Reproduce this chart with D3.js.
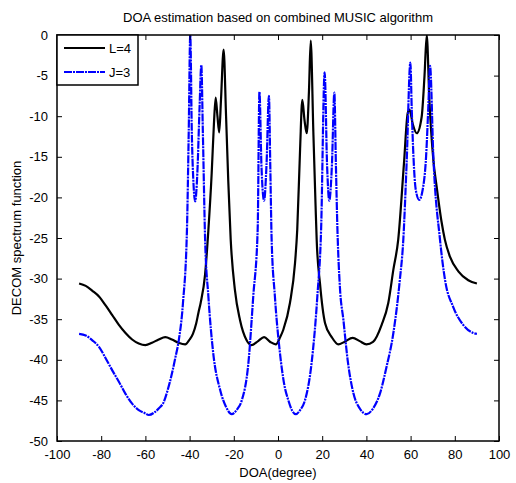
<!DOCTYPE html>
<html>
<head>
<meta charset="utf-8">
<script src="https://cdn.jsdelivr.net/npm/d3@7"></script>
<style>
  body { margin: 0; background: #fff; }
  text { font-family: "Liberation Sans", Arial, sans-serif; fill: #000; }
</style>
</head>
<body>
<div id="chart"></div>
<script>
// L=4 spectrum (degree, dB)
const seriesL4 = [
  [-90,-30.6],[-87,-30.9],[-84,-31.5],[-81,-32.2],[-78,-33.3],[-75,-34.5],[-72,-35.7],[-69,-36.7],
  [-66,-37.5],[-63,-38.0],[-60,-38.2],[-57,-37.9],[-54,-37.5],[-51,-37.2],[-48,-37.5],[-45,-37.9],
  [-42,-38.1],[-40,-37.5],[-38.5,-36.8],[-37,-35.5],[-36,-34.2],[-35,-33],[-33,-29.5],[-31.5,-24],
  [-30,-17],[-29,-11],[-28.2,-7.7],[-27.4,-10],[-26.6,-12],[-25.8,-8],[-24.6,-1.8],[-23.5,-10],
  [-22.5,-18],[-21.4,-25.2],[-19.5,-31.4],[-17.2,-35.1],[-14.2,-37.6],[-12,-38.2],[-9,-37.7],
  [-6.3,-37.2],[-3.5,-37.8],[-1,-38.1],[1,-37.2],[2.4,-36.3],[5.4,-33],[7.7,-28.1],[8.7,-24],
  [10,-14],[11,-8],[12,-10.5],[13,-12.1],[14,-7],[14.8,-0.7],[16,-12],[17,-21],[17.5,-25.2],
  [19,-30.6],[21.3,-35.5],[24.3,-37.2],[27.3,-38.1],[30,-37.8],[33.8,-37.3],[37,-37.7],[40,-38.1],
  [43,-37.8],[46.9,-35.7],[49.9,-33],[52.2,-28.9],[54.4,-25.2],[57,-15.8],[58.7,-9.6],[59.5,-9.2],
  [61,-11],[62.8,-12.1],[65,-10.1],[66.3,-5],[67.3,0],[68.5,-8],[70.3,-15.4],[71.8,-18.7],[74,-23],
  [75.5,-25.2],[77.8,-27.3],[81.6,-29.1],[86.1,-30.2],[90,-30.6]
];

// J=3 spectrum (degree, dB)
const seriesJ3 = [
  [-90,-36.8],[-87,-37.0],[-84,-37.6],[-81,-38.4],[-78,-39.8],[-75,-41.3],[-72,-42.7],[-69,-44.2],
  [-66,-45.4],[-63,-46.2],[-60,-46.6],[-58.5,-46.8],[-56,-46.5],[-54,-46],[-51.7,-45.2],[-50,-43.8],
  [-48,-41.7],[-46.5,-39.8],[-44.9,-37.6],[-43,-33],[-41.2,-24],[-40.4,-12],[-39.7,0],[-39,-12],
  [-38.2,-18.5],[-37.5,-20.5],[-36.5,-17],[-35.5,-9],[-34.7,-3.7],[-34,-12],[-33,-25],[-31.5,-32.2],
  [-29.3,-39.2],[-26.2,-43.7],[-23.5,-45.8],[-21,-46.7],[-18.5,-46.1],[-16.4,-45],[-13.4,-40.4],
  [-11.2,-32.2],[-9.2,-24],[-8.4,-7],[-7.5,-16],[-6.3,-20.4],[-5.2,-16],[-4.1,-7.5],[-3.5,-16],
  [-2.9,-25],[-1.4,-32.2],[0.9,-39.2],[2.8,-43.0],[4.7,-45],[6.3,-46.2],[8.1,-46.7],[10,-46.2],
  [12.2,-45],[15.2,-40.4],[17.8,-32.2],[19.5,-24],[21.1,-4.6],[22.2,-16],[23.2,-20.4],[24.4,-16],
  [25.5,-7.1],[26.2,-16],[26.9,-24],[28,-31],[29.6,-35.1],[31.5,-40],[34.1,-44.1],[37,-46],
  [40.1,-46.7],[43,-46],[46.2,-44.1],[49,-41],[52.2,-36.7],[55,-30.5],[56.7,-25.2],[58.2,-15.8],
  [59.9,-3.4],[60.5,-9],[61.3,-15],[62.3,-19],[63.9,-20.3],[65.5,-19],[67,-15],[68,-9],[68.8,-3.8],
  [70.3,-15],[73.3,-25.2],[75.6,-30.2],[79.3,-33.5],[83.8,-35.7],[88.4,-36.7],[90,-36.8]
];

const xTicks = [-100,-80,-60,-40,-20,0,20,40,60,80,100];
const yTicks = [0,-5,-10,-15,-20,-25,-30,-35,-40,-45,-50];
const legendLabels = ["L=4", "J=3"];

const margin = {top: 35, right: 17, bottom: 42, left: 57};
const W = 516, H = 483;
const width = W - margin.left - margin.right;
const height = H - margin.top - margin.bottom;
const blueDash = "8,1,2,1";

const svg = d3.select("#chart").append("svg")
  .attr("width", W).attr("height", H);

const g = svg.append("g")
  .attr("transform", "translate(" + margin.left + "," + margin.top + ")");

const x = d3.scaleLinear().domain([-100, 100]).range([0, width]);
const y = d3.scaleLinear().domain([-50, 0]).range([height, 0]);

// clip to plot box
svg.append("defs").append("clipPath").attr("id", "clip")
  .append("rect").attr("width", width).attr("height", height);

const line = d3.line()
  .x(d => x(d[0]))
  .y(d => y(d[1]))
  .curve(d3.curveMonotoneX);

const plot = g.append("g").attr("clip-path", "url(#clip)");
plot.append("path").datum(seriesL4)
  .attr("fill", "none").attr("stroke", "#000").attr("stroke-width", 2.2)
  .attr("stroke-linejoin", "round")
  .attr("d", line);
plot.append("path").datum(seriesJ3)
  .attr("fill", "none").attr("stroke", "#0000ff").attr("stroke-width", 2.2)
  .attr("stroke-dasharray", blueDash)
  .attr("d", line);

// axes (ticks inward, box style)
const fmt = d => d3.format("d")(d).replace("−", "-");
g.append("g").attr("transform", "translate(0," + height + ")")
  .call(d3.axisBottom(x).tickValues(xTicks).tickSizeInner(-5).tickSizeOuter(0).tickPadding(9).tickFormat(fmt))
  .call(a => a.selectAll("text").style("font-size", "13px"));
g.append("g")
  .call(d3.axisTop(x).tickValues(xTicks).tickSizeInner(-5).tickSizeOuter(0).tickFormat(""));
g.append("g")
  .call(d3.axisLeft(y).tickValues(yTicks).tickSizeInner(-5).tickSizeOuter(0).tickPadding(9).tickFormat(fmt))
  .call(a => a.selectAll("text").style("font-size", "13px"));
g.append("g").attr("transform", "translate(" + width + ",0)")
  .call(d3.axisRight(y).tickValues(yTicks).tickSizeInner(-5).tickSizeOuter(0).tickFormat(""));
g.selectAll(".domain").remove();
g.selectAll(".tick line").attr("stroke", "#000");
g.append("rect").attr("width", width).attr("height", height)
  .attr("fill", "none").attr("stroke", "#000").attr("stroke-width", 1.5);

// legend
const leg = g.append("g");
leg.append("rect").attr("x", 0).attr("y", 0).attr("width", 81).attr("height", 50)
  .attr("fill", "#fff").attr("stroke", "#000").attr("stroke-width", 1.5);
const legColors = ["#000", "#0000ff"];
legendLabels.forEach((lab, i) => {
  const yy = 13 + i * 24;
  leg.append("line").attr("x1", 7).attr("x2", 48).attr("y1", yy).attr("y2", yy)
    .attr("stroke", legColors[i]).attr("stroke-width", 2.2)
    .attr("stroke-dasharray", i === 1 ? blueDash : null);
  leg.append("text").attr("x", 52).attr("y", yy + 5).style("font-size", "13px").text(lab);
});

// titles
svg.append("text").attr("x", margin.left + width / 2).attr("y", 22)
  .attr("text-anchor", "middle").style("font-size", "13px")
  .text("DOA estimation based on combined MUSIC algorithm");
svg.append("text").attr("x", margin.left + width / 2).attr("y", 477)
  .attr("text-anchor", "middle").style("font-size", "13px")
  .text("DOA(degree)");
svg.append("text")
  .attr("transform", "translate(21," + (margin.top + height / 2) + ") rotate(-90)")
  .attr("text-anchor", "middle").style("font-size", "13px")
  .text("DECOM spectrum function");
</script>
</body>
</html>
